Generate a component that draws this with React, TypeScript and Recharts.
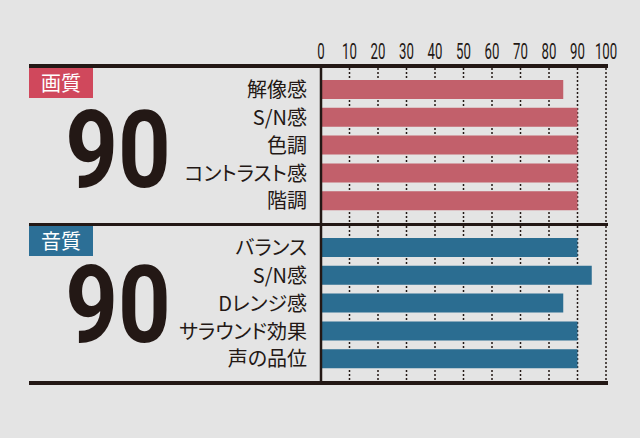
import { Bar, BarChart, CartesianGrid, XAxis, YAxis } from "recharts";

const pictureLabels = ["解像感", "S/N感", "色調", "コントラスト感", "階調"];
const pictureValues = [85, 90, 90, 90, 90];
const soundLabels = ["バランス", "S/N感", "Dレンジ感", "サラウンド効果", "声の品位"];
const soundValues = [90, 95, 85, 90, 90];
const scaleTicks = [0, 10, 20, 30, 40, 50, 60, 70, 80, 90, 100];
const pictureScore = 90;
const soundScore = 90;

const ink = "#231815";
const bg = "#e4e4e4";
const jp = "'Noto Sans CJK JP', 'Noto Sans CJK SC', sans-serif";

const pictureData = pictureLabels.map((label, i) => ({ label, value: pictureValues[i] }));
const soundData = soundLabels.map((label, i) => ({ label, value: soundValues[i] }));

function TopTick({ x, y, payload }: any) {
  return (
    <g transform={`translate(${x},${y}) scale(0.6,1)`}>
      <text x={0} y={0} textAnchor="middle" fontFamily="Roboto" fontSize={22} fill={ink}>
        {payload.value}
      </text>
    </g>
  );
}

function LabelTick({ x, y, payload }: any) {
  return (
    <text
      x={x}
      y={y}
      dy="0.36em"
      textAnchor="end"
      fontFamily={jp}
      fontSize={20}
      fill={ink}
      style={{ fontFeatureSettings: '"palt"' }}
    >
      {payload.value}
    </text>
  );
}

function Rule({ top }: { top: number }) {
  return (
    <div
      style={{ position: "absolute", left: 29, top, width: 579, height: 3.5, background: ink }}
    />
  );
}

function Badge({ top, text, color }: { top: number; text: string; color: string }) {
  return (
    <div
      style={{
        position: "absolute",
        left: 29,
        top,
        width: 64,
        height: 30,
        background: color,
        color: "white",
        fontFamily: jp,
        fontSize: 20,
        lineHeight: "30px",
        textAlign: "center",
      }}
    >
      {text}
    </div>
  );
}

// big overall score, drawn a little condensed like the print original
function Score({ baseline, value }: { baseline: number; value: number }) {
  return (
    <svg
      width={220}
      height={170}
      overflow="visible"
      style={{ position: "absolute", left: 8, top: baseline - 130 }}
    >
      <g transform="translate(110,130) scale(0.86,1)">
        <text
          x={0}
          y={0}
          textAnchor="middle"
          fontFamily="Roboto"
          fontWeight={700}
          fontSize={107}
          fill={ink}
        >
          {value}
        </text>
      </g>
    </svg>
  );
}

export default function App() {
  return (
    <div
      style={{
        position: "absolute",
        left: 0,
        top: 0,
        width: 640,
        height: 438,
        background: bg,
        overflow: "hidden",
      }}
    >
      <div style={{ position: "absolute", left: 0, top: 0 }}>
        <BarChart
          width={640}
          height={223}
          data={pictureData}
          layout="vertical"
          margin={{ top: 0, right: 34, left: 0, bottom: 0 }}
          barCategoryGap={0}
        >
          <CartesianGrid
            horizontal={false}
            stroke={ink}
            strokeWidth={1.5}
            strokeDasharray="2 2"
          />
          <XAxis
            type="number"
            orientation="top"
            domain={[0, 100]}
            ticks={scaleTicks}
            height={68}
            tickSize={9}
            tickMargin={0}
            tickLine={false}
            axisLine={false}
            tick={<TopTick />}
            interval={0}
          />
          <YAxis
            type="category"
            dataKey="label"
            width={321}
            padding={{ top: 8, bottom: 8 }}
            tickSize={0}
            tickMargin={14}
            tickLine={false}
            axisLine={{ stroke: ink, strokeWidth: 2.5 }}
            tick={<LabelTick />}
            interval={0}
          />
          <Bar dataKey="value" fill="#c2606b" barSize={19} isAnimationActive={false} />
        </BarChart>
      </div>

      <div style={{ position: "absolute", left: 0, top: 226 }}>
        <BarChart
          width={640}
          height={155}
          data={soundData}
          layout="vertical"
          margin={{ top: 0, right: 34, left: 0, bottom: 0 }}
          barCategoryGap={0}
        >
          <CartesianGrid
            horizontal={false}
            stroke={ink}
            strokeWidth={1.5}
            strokeDasharray="2 2"
          />
          <XAxis type="number" domain={[0, 100]} ticks={scaleTicks} hide />
          <YAxis
            type="category"
            dataKey="label"
            width={321}
            padding={{ top: 8, bottom: 8 }}
            tickSize={0}
            tickMargin={14}
            tickLine={false}
            axisLine={{ stroke: ink, strokeWidth: 2.5 }}
            tick={<LabelTick />}
            interval={0}
          />
          <Bar dataKey="value" fill="#2b6d91" barSize={19} isAnimationActive={false} />
        </BarChart>
      </div>

      <Rule top={64.3} />
      <Rule top={222.7} />
      <Rule top={381.3} />

      <Badge top={67.8} text="画質" color="#d0485c" />
      <Badge top={226.1} text="音質" color="#2c6f96" />

      <Score baseline={187.3} value={pictureScore} />
      <Score baseline={342.3} value={soundScore} />
    </div>
  );
}
